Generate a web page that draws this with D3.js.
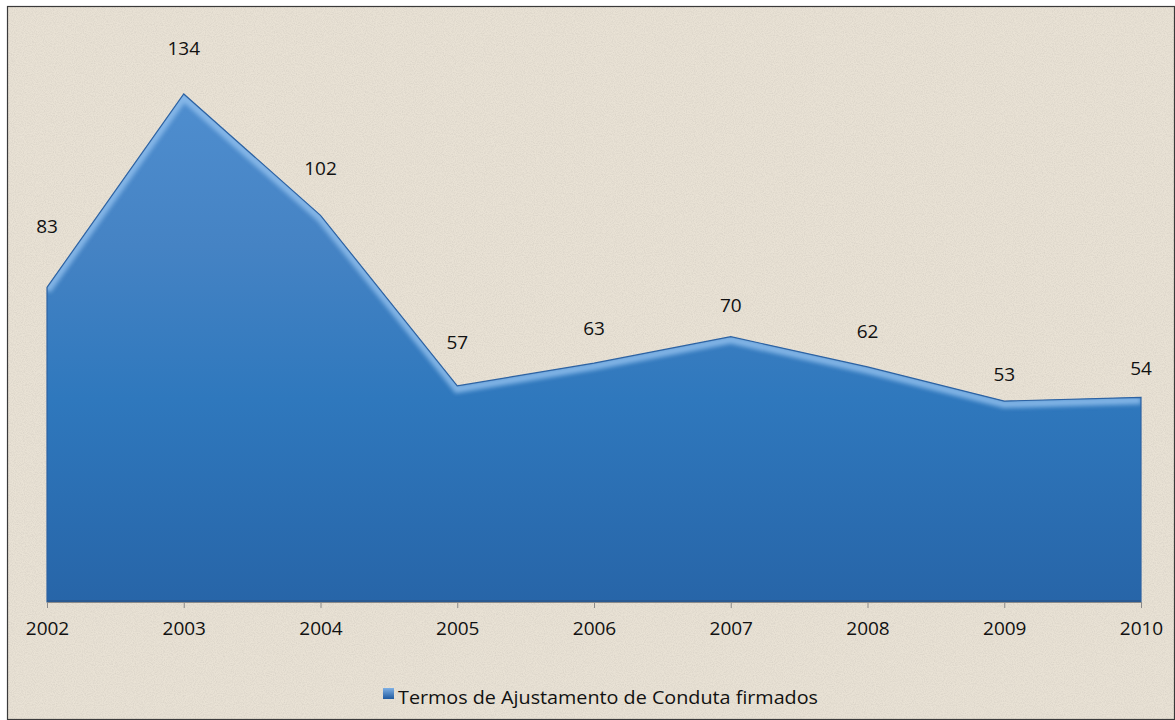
<!DOCTYPE html>
<html><head><meta charset="utf-8">
<script src="https://cdn.jsdelivr.net/npm/d3@7"></script>
<style>html,body{margin:0;padding:0;background:#fff;}svg{display:block;}</style>
</head><body>
<script>
const years = ["2002","2003","2004","2005","2006","2007","2008","2009","2010"];
const values = [83,134,102,57,63,70,62,53,54];
const seriesName = "Termos de Ajustamento de Conduta firmados";
// label vertical offsets above each point (px)
const labelDy = [-61,-46,-47,-44,-35,-31,-36,-27,-29];

const W=1175,H=720;
const svg=d3.select("body").append("svg").attr("width",W).attr("height",H);
const defs=svg.append("defs");

// background texture
const tf=defs.append("filter").attr("id","tex").attr("x",0).attr("y",0).attr("width","100%").attr("height","100%");
tf.append("feTurbulence").attr("type","fractalNoise").attr("baseFrequency","0.9").attr("numOctaves",2).attr("seed",3).attr("result","n");
tf.append("feColorMatrix").attr("in","n").attr("type","matrix")
  .attr("values","0 0 0 0 0.45  0 0 0 0 0.42  0 0 0 0 0.38  0 0 0 -1.6 1.05").attr("result","m");
tf.append("feComposite").attr("in","m").attr("in2","SourceGraphic").attr("operator","in");

svg.append("rect").attr("x",0).attr("y",0).attr("width",W).attr("height",H).attr("fill","#fff");
svg.append("rect").attr("x",7).attr("y",6).attr("width",W-7).attr("height",H-6).attr("fill","#e9e2d5");
svg.append("rect").attr("x",7).attr("y",6).attr("width",W-7).attr("height",H-6).attr("fill","#e9e2d5").attr("filter","url(#tex)").attr("opacity",0.3);
svg.append("rect").attr("x",7.5).attr("y",6.5).attr("width",W-8).attr("height",H-7).attr("fill","none").attr("stroke","#3a3a3a").attr("stroke-width",1.2);

const x=d3.scalePoint().domain(years).range([47,1141]);
const y=d3.scaleLinear().domain([0,134]).range([602,94]);

const g=defs.append("linearGradient").attr("id","ag").attr("gradientUnits","userSpaceOnUse")
  .attr("x1",0).attr("y1",94).attr("x2",0).attr("y2",602);
g.append("stop").attr("offset","0%").attr("stop-color","#4f8ecf");
g.append("stop").attr("offset","30%").attr("stop-color","#4583c4");
g.append("stop").attr("offset","60%").attr("stop-color","#2f78bd");
g.append("stop").attr("offset","100%").attr("stop-color","#2765a8");

const data=years.map((d,i)=>({yr:d,v:values[i]}));
const area=d3.area().x(d=>x(d.yr)).y0(y(0)).y1(d=>y(d.v));
const line=d3.line().x(d=>x(d.yr)).y(d=>y(d.v));

svg.append("path").datum(data).attr("d",area).attr("fill","url(#ag)");
// bevel highlight
const bl=defs.append("filter").attr("id","blur");
bl.append("feGaussianBlur").attr("stdDeviation",2.2);
const cp=defs.append("clipPath").attr("id","cp");
cp.append("path").datum(data).attr("d",area);
svg.append("g").attr("clip-path","url(#cp)").append("path").datum(data).attr("d",line)
  .attr("fill","none").attr("stroke","#8fbeec").attr("stroke-width",8).attr("filter","url(#blur)").attr("transform","translate(0,3)").attr("opacity",0.85);
svg.append("path").datum(data).attr("d",area).attr("fill","none").attr("stroke","#2d62a2").attr("stroke-width",1.2);
// bottom shadow line
svg.append("line").attr("x1",x(years[0])).attr("x2",x(years[years.length-1])).attr("y1",y(0)-1).attr("y2",y(0)-1).attr("stroke","#2a5a92").attr("stroke-width",2);

// axis
const ax=svg.append("g").attr("transform",`translate(0,${y(0)})`)
  .call(d3.axisBottom(x).tickSize(6).tickPadding(14));
ax.select(".domain").attr("stroke","#8a8a8a");
ax.selectAll(".tick line").attr("stroke","#8a8a8a");
ax.selectAll(".tick text").attr("fill","#111").attr("font-family","'Open Sans',sans-serif").attr("font-size",19);

// data labels
svg.append("g").selectAll("text").data(data).join("text")
  .attr("x",d=>x(d.yr)).attr("y",(d,i)=>y(d.v)+labelDy[i]).attr("dy","0.35em")
  .attr("text-anchor","middle").attr("font-family","'Open Sans',sans-serif").attr("font-size",19).attr("fill","#111")
  .text(d=>d.v);

// legend
const lg=defs.append("linearGradient").attr("id","lg").attr("x1",0).attr("y1",0).attr("x2",0).attr("y2",1);
lg.append("stop").attr("offset","0%").attr("stop-color","#7fb0e4");
lg.append("stop").attr("offset","100%").attr("stop-color","#1f5aa0");
svg.append("rect").attr("x",383).attr("y",688).attr("width",11).attr("height",11).attr("fill","url(#lg)");
svg.append("text").attr("x",398).attr("y",704).attr("font-family","'Open Sans',sans-serif").attr("font-size",17.5).attr("fill","#111")
  .attr("textLength",420).attr("lengthAdjust","spacingAndGlyphs").text(seriesName);
</script>
</body></html>
